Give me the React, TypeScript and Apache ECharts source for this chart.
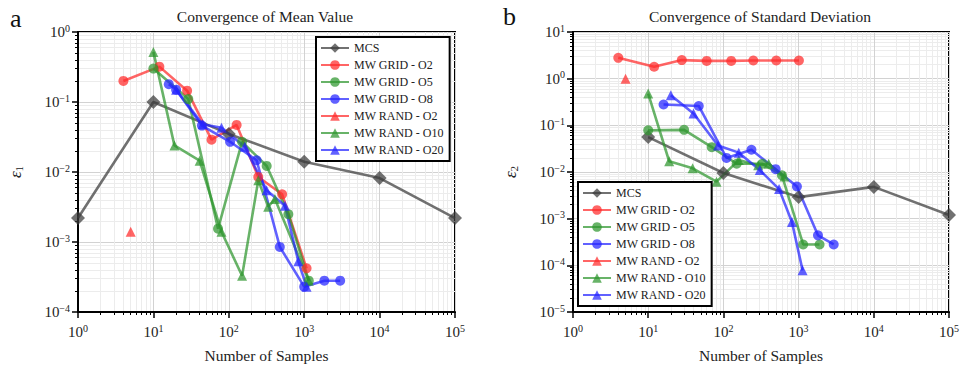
import React, { useEffect, useRef } from 'react';
import * as echarts from 'echarts';

const FONT = 'Liberation Serif';

// ---- Panel a: convergence of mean value (epsilon 1)
const mcsX_a = [1, 10, 100, 1000, 10000, 100000];
const mcsY_a = [2.2e-3, 0.1, 0.035, 0.014, 0.0082, 2.2e-3];
const grid2X_a = [4, 12, 28, 59, 127, 246, 510, 1075];
const grid2Y_a = [0.2, 0.32, 0.145, 0.029, 0.047, 0.0085, 0.0048, 4.2e-4];
const grid5X_a = [10, 29, 72, 150, 318, 616, 1150];
const grid5Y_a = [0.3, 0.11, 1.55e-3, 0.027, 0.0122, 2.5e-3, 2.8e-4];
const grid8X_a = [16, 20, 44, 104, 234, 475, 1000, 1850, 3000];
const grid8Y_a = [0.18, 0.15, 0.046, 0.027, 0.0147, 8.5e-4, 2.3e-4, 2.8e-4, 2.8e-4];
const rand2X_a = [5];
const rand2Y_a = [1.4e-3];
const rand10X_a = [10, 19, 41, 80, 150, 246, 333, 409, 1150];
const rand10Y_a = [0.52, 0.024, 0.0145, 1.4e-3, 3.3e-4, 7.6e-3, 3.2e-3, 4.1e-3, 2.8e-4];
const rand20X_a = [20, 45, 80, 163, 317, 556, 835, 1075];
const rand20Y_a = [0.15, 0.048, 0.043, 0.023, 5.5e-3, 3.3e-3, 5.3e-4, 2.3e-4];

// ---- Panel b: convergence of standard deviation (epsilon 2)
const mcsX_b = [10, 100, 1000, 10000, 100000];
const mcsY_b = [0.056, 0.0095, 2.9e-3, 4.8e-3, 1.2e-3];
const grid2X_b = [4, 12, 28, 60, 127, 250, 505, 1010];
const grid2Y_b = [2.8, 1.8, 2.5, 2.4, 2.4, 2.45, 2.45, 2.45];
const grid5X_b = [10, 30, 70, 150, 330, 600, 1150, 1900];
const grid5Y_b = [0.078, 0.08, 0.034, 0.015, 0.015, 8.5e-3, 2.8e-4, 2.8e-4];
const grid8X_b = [16, 47, 110, 236, 495, 950, 1810, 2930];
const grid8Y_b = [0.28, 0.26, 0.02, 0.03, 0.0115, 4.9e-3, 4.4e-4, 2.8e-4];
const rand2X_b = [5];
const rand2Y_b = [1.0];
const rand10X_b = [10, 19, 39, 81, 160, 290, 400, 650];
const rand10Y_b = [0.48, 0.017, 0.012, 6.2e-3, 0.018, 0.014, 0.015, 8e-3];
const rand20X_b = [20, 40, 85, 160, 305, 550, 815, 1130];
const rand20Y_b = [0.44, 0.18, 0.037, 0.026, 0.011, 4.3e-3, 8.5e-4, 7.8e-5];

const seriesNames = ['MCS', 'MW GRID - O2', 'MW GRID - O5', 'MW GRID - O8', 'MW RAND - O2', 'MW RAND - O10', 'MW RAND - O20'];
const titles = ['Convergence of Mean Value', 'Convergence of Standard Deviation'];

const COLORS: Record<string, string> = {
  'MCS': '#3a3a3a',
  'MW GRID - O2': '#ff2a2a',
  'MW GRID - O5': '#2e962e',
  'MW GRID - O8': '#2424ff',
  'MW RAND - O2': '#ff2a2a',
  'MW RAND - O10': '#2e962e',
  'MW RAND - O20': '#2424ff',
};

const zip = (xs: number[], ys: number[]) => xs.map((x, i) => [x, ys[i]]);

const minorValues = (lo: number, hi: number) => {
  const out: number[] = [];
  for (let k = lo; k < hi; k++) {
    for (let m = 2; m <= 9; m++) out.push(m * Math.pow(10, k));
  }
  return out;
};

const supLabel = (v: number) => {
  const e = Math.round(Math.log10(v));
  const s = e < 0 ? '\u2212' + Math.abs(e) : String(e);
  return `{b|10}{s|${s}}`;
};

const richLabel = {
  b: { fontFamily: FONT, fontSize: 15, color: '#222', lineHeight: 18 },
  s: { fontFamily: FONT, fontSize: 10, color: '#222', lineHeight: 11, verticalAlign: 'top' },
};

export default function App() {
  const ref = useRef<HTMLDivElement>(null);

  useEffect(() => {
    if (!ref.current) return;
    const chart = echarts.init(ref.current, undefined, { renderer: 'svg' });

    const panels = [
      {
        data: [
          zip(mcsX_a, mcsY_a), zip(grid2X_a, grid2Y_a), zip(grid5X_a, grid5Y_a), zip(grid8X_a, grid8Y_a),
          zip(rand2X_a, rand2Y_a), zip(rand10X_a, rand10Y_a), zip(rand20X_a, rand20Y_a),
        ],
        yMin: 1e-4, yMax: 1, yLo: -4, yHi: 0, sub: '1',
      },
      {
        data: [
          zip(mcsX_b, mcsY_b), zip(grid2X_b, grid2Y_b), zip(grid5X_b, grid5Y_b), zip(grid8X_b, grid8Y_b),
          zip(rand2X_b, rand2Y_b), zip(rand10X_b, rand10Y_b), zip(rand20X_b, rand20Y_b),
        ],
        yMin: 1e-5, yMax: 10, yLo: -5, yHi: 1, sub: '2',
      },
    ];

    const grids = [
      { left: 78, right: 510, top: 32, bottom: 60 },
      { left: 573, right: 16, top: 32, bottom: 60 },
    ].map((g) => ({ ...g, show: true, borderColor: '#000', borderWidth: 2, backgroundColor: 'transparent' }));

    const xAxes: any[] = [];
    const yAxes: any[] = [];
    panels.forEach((p, gi) => {
      xAxes.push({
        type: 'log', logBase: 10, gridIndex: gi, min: 1, max: 1e5, position: 'bottom',
        name: 'Number of Samples', nameLocation: 'middle', nameGap: 35,
        nameTextStyle: { fontFamily: FONT, fontSize: 15.5, color: '#222' },
        axisLine: { show: true, lineStyle: { color: '#000', width: 2 } },
        axisTick: { show: true, inside: false, length: 6, lineStyle: { color: '#000', width: 1.5 } },
        axisLabel: { show: true, formatter: supLabel, rich: richLabel, margin: 11 },
        splitLine: { show: true, lineStyle: { color: '#d2d2d2', width: 1 } },
      });
      xAxes.push({
        type: 'log', logBase: 10, gridIndex: gi, min: 1, max: 1e5, position: 'bottom',
        axisLine: { show: false },
        axisTick: { show: true, inside: false, length: 3, customValues: minorValues(0, 5), lineStyle: { color: '#000', width: 1 } },
        axisLabel: { show: false },
        splitLine: { show: true, lineStyle: { color: '#ececec', width: 1 } },
      });
      yAxes.push({
        type: 'log', logBase: 10, gridIndex: gi, min: p.yMin, max: p.yMax, position: 'left',
        name: `{e|\u03b5}{i|${p.sub}}`, nameLocation: 'middle', nameGap: 54, nameRotate: 90,
        nameTextStyle: {
          rich: {
            e: { fontFamily: FONT, fontSize: 17, color: '#222', fontStyle: 'italic' },
            i: { fontFamily: FONT, fontSize: 11, color: '#222', verticalAlign: 'bottom', padding: [6, 0, 0, 0] },
          },
        },
        axisLine: { show: true, lineStyle: { color: '#000', width: 2 } },
        axisTick: { show: true, inside: false, length: 6, lineStyle: { color: '#000', width: 1.5 } },
        axisLabel: { show: true, formatter: supLabel, rich: richLabel, margin: 8 },
        splitLine: { show: true, lineStyle: { color: '#d2d2d2', width: 1 } },
      });
      yAxes.push({
        type: 'log', logBase: 10, gridIndex: gi, min: p.yMin, max: p.yMax, position: 'left',
        axisLine: { show: false },
        axisTick: { show: true, inside: false, length: 3, customValues: minorValues(p.yLo, p.yHi), lineStyle: { color: '#000', width: 1 } },
        axisLabel: { show: false },
        splitLine: { show: true, lineStyle: { color: '#ececec', width: 1 } },
      });
    });

    const series: any[] = [];
    panels.forEach((p, gi) => {
      p.data.forEach((d, si) => {
        const name = seriesNames[si];
        const symbol = si === 0 ? 'diamond' : si <= 3 ? 'circle' : 'triangle';
        series.push({
          type: 'line', name, data: d,
          xAxisIndex: gi * 2, yAxisIndex: gi * 2,
          symbol, symbolSize: si === 0 ? 14 : 10, showSymbol: true,
          lineStyle: { color: COLORS[name], width: 2.6, opacity: 0.72 },
          itemStyle: { color: COLORS[name], opacity: 0.72 },
          z: 3,
        });
      });
    });

    const legendCommon = {
      orient: 'vertical', data: seriesNames, itemWidth: 28, itemHeight: 12, itemGap: 5,
      borderColor: '#000', borderWidth: 2, backgroundColor: '#fff', borderRadius: 0,
      padding: [5, 6, 5, 4],
      textStyle: { fontFamily: FONT, fontSize: 12, color: '#222' },
      selectedMode: false,
    };

    chart.setOption({
      animation: false,
      backgroundColor: '#fff',
      textStyle: { fontFamily: FONT },
      grid: grids,
      xAxis: xAxes,
      yAxis: yAxes,
      legend: [
        { ...legendCommon, left: 316, top: 37 },
        { ...legendCommon, left: 578, top: 182 },
      ],
      graphic: [
        { type: 'text', x: 265, y: 16, style: { text: titles[0], font: `15.5px "${FONT}"`, fill: '#222', align: 'center', verticalAlign: 'middle' } },
        { type: 'text', x: 760, y: 16, style: { text: titles[1], font: `15.5px "${FONT}"`, fill: '#222', align: 'center', verticalAlign: 'middle' } },
        { type: 'text', x: 10, y: 18, style: { text: 'a', font: `26px "${FONT}"`, fill: '#111', align: 'left', verticalAlign: 'middle' } },
        { type: 'text', x: 503, y: 16, style: { text: 'b', font: `26px "${FONT}"`, fill: '#111', align: 'left', verticalAlign: 'middle' } },
      ],
      series,
    });

    return () => chart.dispose();
  }, []);

  return <div ref={ref} style={{ position: 'fixed', left: 0, top: 0, width: 965, height: 372 }} />;
}
